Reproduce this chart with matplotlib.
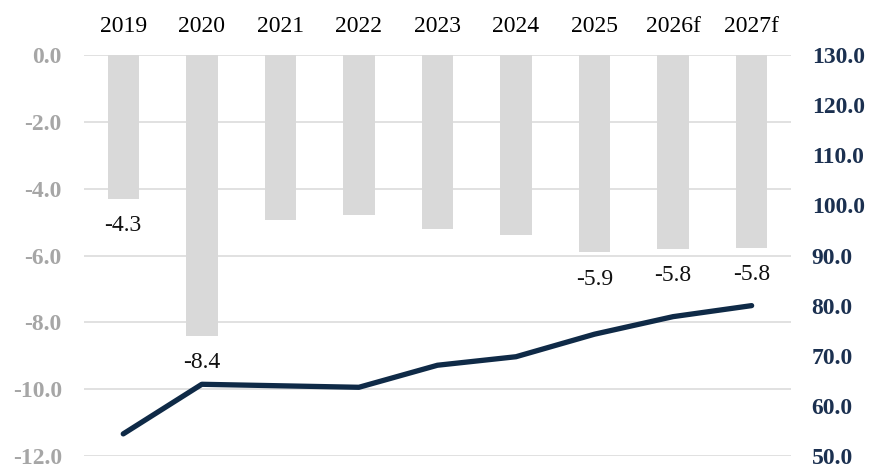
import matplotlib
matplotlib.use("Agg")
import matplotlib.pyplot as plt

# fiscal balance (left axis, bars) and debt ratio (right axis, line)
years = ["2019", "2020", "2021", "2022", "2023", "2024", "2025", "2026f", "2027f"]
balance = [-4.3, -8.4, -4.95, -4.8, -5.2, -5.4, -5.9, -5.8, -5.76]
debt = [54.4, 64.3, 64.0, 63.7, 68.1, 69.8, 74.3, 77.8, 80.0]
labelled = ["2019", "2020", "2025", "2026f", "2027f"]

plt.rcParams["font.family"] = ["Liberation Serif", "DejaVu Serif"]
plt.rcParams["font.size"] = 17

BAR_C = "#d9d9d9"
LINE_C = "#0f2a47"
GRID_C = "#dcdcdc"

fig = plt.figure(figsize=(8.72, 4.65), dpi=100)
ax = fig.add_axes([0.0963, 0.0195, 0.8107, 0.862])
ax2 = ax.twinx()

x = list(range(len(years)))
ax.bar(x, balance, width=0.4, color=BAR_C, zorder=2)
for i, (yr, v) in enumerate(zip(years, balance)):
    if yr in labelled:
        ax.annotate(f"{v:.1f}", (i, v), xytext=(0, -27), textcoords="offset pixels",
                    ha="center", va="center", fontsize=17, color="#111111")

ax.set_ylim(-12, 0)
ax.set_yticks([0, -2, -4, -6, -8, -10, -12])
ax.set_yticklabels([f"{t:.1f}" for t in ax.get_yticks()], fontweight="bold",
                   color="#a6a6a6")
ax.set_xlim(-0.5, len(years) - 0.5)
ax.set_xticks(x)
ax.set_xticklabels(years)
ax.xaxis.tick_top()
ax.tick_params(axis="x", length=0, pad=13)
ax.tick_params(axis="y", length=0, pad=16)
ax.grid(axis="y", color=GRID_C, lw=1.2, zorder=0)
ax.set_axisbelow(True)
for s in ax.spines.values():
    s.set_visible(False)

ax2.plot(x, debt, color=LINE_C, lw=3.8, solid_capstyle="round",
         solid_joinstyle="round", zorder=3)
ax2.set_ylim(50, 130)
ax2.set_yticks(range(50, 131, 10))
ax2.set_yticklabels([f"{t:.1f}" for t in range(50, 131, 10)], fontweight="bold",
                    color="#1b3050")
ax2.tick_params(axis="y", length=0, pad=15)
for s in ax2.spines.values():
    s.set_visible(False)

fig.savefig("out.png", dpi=100)
